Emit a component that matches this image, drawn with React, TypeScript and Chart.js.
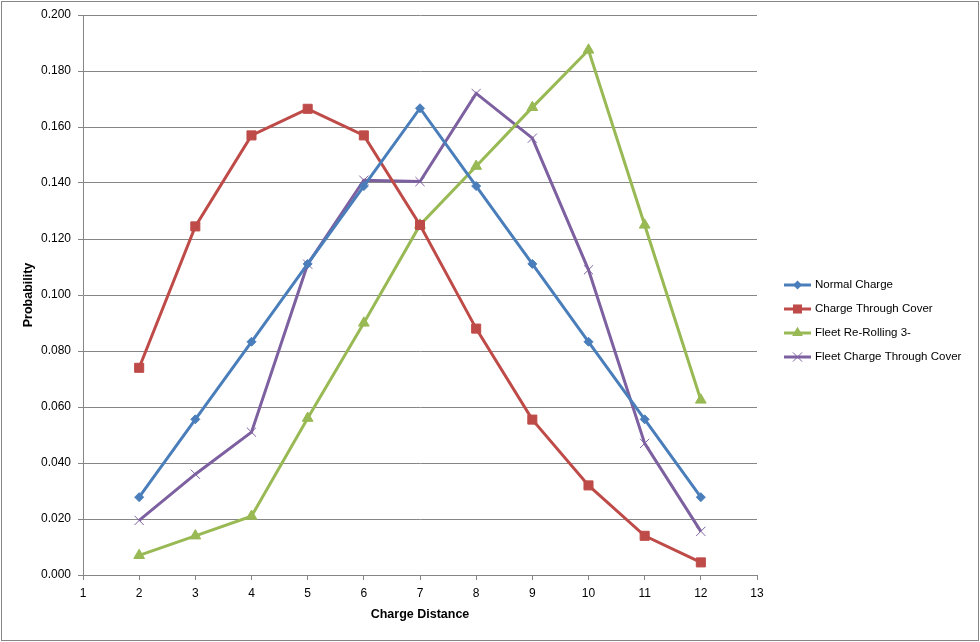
import React, { useEffect, useRef } from "react";
import { Chart, registerables } from "chart.js";

Chart.register(...registerables);

const distances = [2, 3, 4, 5, 6, 7, 8, 9, 10, 11, 12];
const normalCharge = [0.0278, 0.0556, 0.0833, 0.1111, 0.1389, 0.1667, 0.1389, 0.1111, 0.0833, 0.0556, 0.0278];
const chargeThroughCover = [0.074, 0.1245, 0.157, 0.1665, 0.157, 0.125, 0.088, 0.0555, 0.032, 0.014, 0.0045];
const fleetReRolling = [0.007, 0.014, 0.021, 0.056, 0.09, 0.125, 0.146, 0.167, 0.1875, 0.125, 0.0625];
const fleetChargeThroughCover = [0.0195, 0.036, 0.051, 0.111, 0.141, 0.1405, 0.172, 0.156, 0.109, 0.047, 0.0156];

const seriesNames = ["Normal Charge", "Charge Through Cover", "Fleet Re-Rolling 3-", "Fleet Charge Through Cover"];
const seriesColors = ["#4A7EBB", "#BE4B48", "#98B954", "#7D60A0"];
const seriesMarkers = ["rectRot", "rect", "triangle", "crossRot"];
const seriesRadius = [4.5, 6.4, 6.2, 6.5];

const FONT = "'Liberation Sans', Arial, sans-serif";

function drawMarker(ctx: CanvasRenderingContext2D, style: string, x: number, y: number, r: number) {
  ctx.beginPath();
  if (style === "rectRot") {
    ctx.moveTo(x, y - r);
    ctx.lineTo(x + r, y);
    ctx.lineTo(x, y + r);
    ctx.lineTo(x - r, y);
    ctx.closePath();
    ctx.fill();
  } else if (style === "rect") {
    const s = r * Math.SQRT1_2;
    ctx.rect(x - s, y - s, 2 * s, 2 * s);
    ctx.fill();
  } else if (style === "triangle") {
    ctx.moveTo(x, y - r);
    ctx.lineTo(x + r * 0.866, y + r * 0.5);
    ctx.lineTo(x - r * 0.866, y + r * 0.5);
    ctx.closePath();
    ctx.fill();
  } else {
    const d = r * Math.SQRT1_2;
    ctx.moveTo(x - d, y - d);
    ctx.lineTo(x + d, y + d);
    ctx.moveTo(x + d, y - d);
    ctx.lineTo(x - d, y + d);
    ctx.stroke();
  }
}

const framePlugin = {
  id: "frame",
  afterDraw(chart: any) {
    const ctx = chart.ctx;
    ctx.save();
    ctx.strokeStyle = "#868686";
    ctx.lineWidth = 1;
    ctx.strokeRect(1.5, 1.5, chart.width - 3, chart.height - 3);
    const x0 = 784;
    const rows = [285, 309, 333, 357];
    chart.data.datasets.forEach((ds: any, i: number) => {
      const y = rows[i];
      ctx.strokeStyle = ds.borderColor;
      ctx.lineWidth = 3;
      ctx.beginPath();
      ctx.moveTo(x0, y);
      ctx.lineTo(x0 + 27, y);
      ctx.stroke();
      ctx.fillStyle = ds.pointBackgroundColor;
      ctx.strokeStyle = ds.pointBorderColor;
      ctx.lineWidth = 1;
      drawMarker(ctx, ds.pointStyle, x0 + 13.5, y, ds.pointRadius);
      ctx.fillStyle = "#000";
      ctx.font = `11.5px ${FONT}`;
      ctx.textBaseline = "middle";
      ctx.textAlign = "left";
      ctx.fillText(ds.label, x0 + 31, y);
    });
    ctx.restore();
  },
};

export default function App() {
  const ref = useRef<HTMLCanvasElement>(null);
  useEffect(() => {
    document.body.style.margin = "0";
    const seriesValues = [normalCharge, chargeThroughCover, fleetReRolling, fleetChargeThroughCover];
    const chart = new Chart(ref.current!, {
      type: "line",
      data: {
        datasets: seriesValues.map((vals, i) => ({
          label: seriesNames[i],
          data: distances.map((d, j) => ({ x: d, y: vals[j] })),
          borderColor: seriesColors[i],
          backgroundColor: seriesColors[i],
          pointBackgroundColor: seriesColors[i],
          pointBorderColor: seriesColors[i],
          pointStyle: seriesMarkers[i] as any,
          pointRadius: seriesRadius[i],
          pointBorderWidth: 1,
          borderWidth: 3,
          tension: 0,
          fill: false,
        })),
      },
      options: {
        animation: false,
        responsive: false,
        maintainAspectRatio: false,
        layout: { padding: { top: 15, right: 223, left: 0, bottom: 0 } },
        plugins: { legend: { display: false }, tooltip: { enabled: false } },
        scales: {
          x: {
            type: "linear",
            min: 1,
            max: 13,
            ticks: { stepSize: 1, color: "#000", font: { family: FONT, size: 12 }, padding: 6 },
            grid: { drawOnChartArea: false, drawTicks: true, tickLength: 5, color: "#868686" },
            border: { color: "#868686", width: 1 },
            title: { display: true, text: "Charge Distance", color: "#000", font: { family: FONT, size: 12.5, weight: "bold" }, padding: { top: 0, bottom: 20 } },
            afterFit(scale: any) {
              scale.height = 67;
            },
          },
          y: {
            min: 0,
            max: 0.2,
            ticks: {
              stepSize: 0.02,
              color: "#000",
              font: { family: FONT, size: 12 },
              padding: 7,
              callback: (v: any) => Number(v).toFixed(3),
            },
            grid: { drawOnChartArea: true, drawTicks: true, tickLength: 5, color: "#868686" },
            border: { color: "#868686", width: 1 },
            title: { display: true, text: "Probability", color: "#000", font: { family: FONT, size: 12.5, weight: "bold" }, padding: { top: 21, bottom: 0 } },
            afterFit(scale: any) {
              scale.width = 83;
            },
          },
        },
      },
      plugins: [framePlugin],
    });
    return () => chart.destroy();
  }, []);
  return (
    <div style={{ position: "absolute", left: 0, top: 0, width: 980, height: 642, background: "#fff" }}>
      <canvas ref={ref} width={980} height={642} style={{ width: 980, height: 642 }} />
    </div>
  );
}
